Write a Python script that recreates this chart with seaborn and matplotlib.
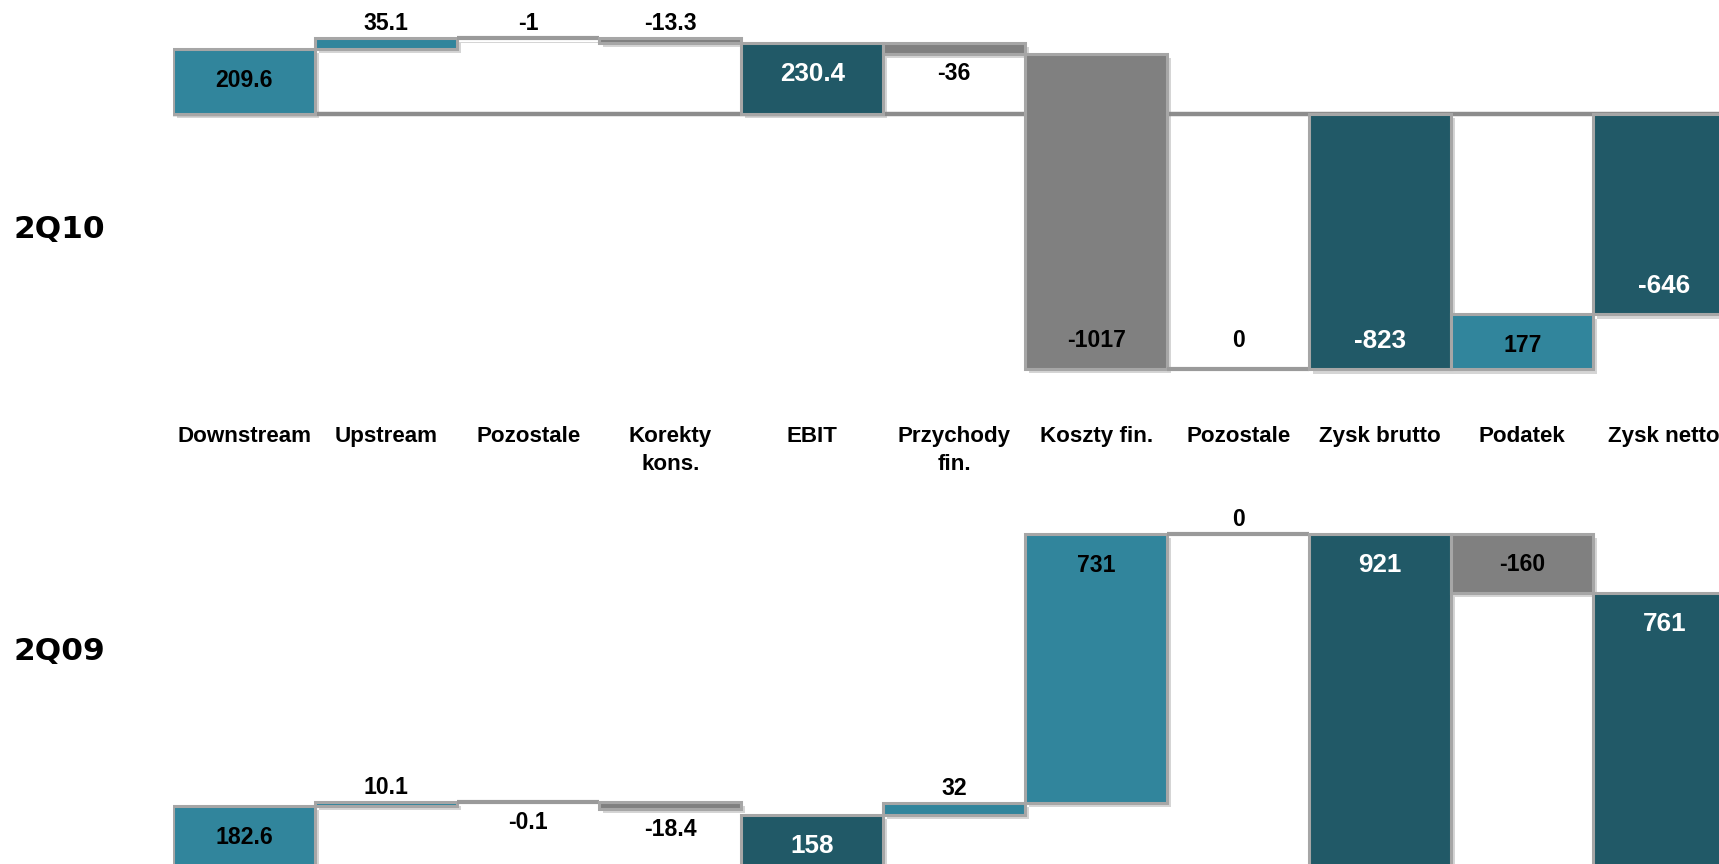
import numpy as np
import pandas as pd
import seaborn as sns
import matplotlib
matplotlib.use("Agg")
import matplotlib.pyplot as plt
import matplotlib.patheffects as pe
from matplotlib import font_manager
from matplotlib.transforms import blended_transform_factory

# ---------------- data ----------------
categories = ["Downstream", "Upstream", "Pozostale", "Korekty\nkons.", "EBIT",
              "Przychody\nfin.", "Koszty fin.", "Pozostale", "Zysk brutto",
              "Podatek", "Zysk netto"]
step_kind = ["start", "delta", "delta", "delta", "total", "delta",
             "delta", "delta", "total", "delta", "total"]
values_2q10 = [209.6, 35.1, -1, -13.3, 230.4, -36, -1017, 0, -823, 177, -646]
values_2q09 = [182.6, 10.1, -0.1, -18.4, 158, 32, 731, 0, 921, -160, 761]
label_2q10 = ["209.6", "35.1", "-1", "-13.3", "230.4", "-36", "-1017", "0", "-823", "177", "-646"]
label_2q09 = ["182.6", "10.1", "-0.1", "-18.4", "158", "32", "731", "0", "921", "-160", "761"]
period_names = ["2Q10", "2Q09"]

# label placement style per bar
place_2q10 = ["in", "above", "above", "above", "in", "below", "in", "in", "in", "in", "in"]
place_2q09 = ["in", "above", "below", "below", "in", "above", "in", "above", "in", "in", "in"]

# ---------------- style ----------------
LIGHT = "#31859C"
DARK = "#215967"
GREY = "#808080"
EDGE = "#A6A6A6"

sns.set_theme(style="white")
names = {f.name for f in font_manager.fontManager.ttflist}
if "Liberation Sans Narrow" in names:
    NARROW = ["Liberation Sans Narrow", "DejaVu Sans"]
    nscale = 1.0
else:
    NARROW = ["Liberation Sans", "DejaVu Sans"]
    nscale = 0.85
plt.rcParams["font.family"] = NARROW

W, H = 1719, 864
fig = plt.figure(figsize=(W / 100, H / 100), dpi=100)
fig.patch.set_facecolor("white")

left_px = 173.2
barw_px = 142.0
x_right = -0.5 + (W - left_px) / barw_px


def waterfall(values, kinds):
    bottoms, heights = [], []
    run = 0.0
    for v, k in zip(values, kinds):
        if k in ("start", "total"):
            bottoms.append(0.0)
            heights.append(v)
            run = v
        else:
            bottoms.append(run)
            heights.append(v)
            run += v
    return np.array(bottoms), np.array(heights)


def colors_for(values, kinds):
    out = []
    for v, k in zip(values, kinds):
        if k == "total":
            out.append(DARK)
        elif k == "start":
            out.append(LIGHT)
        elif v > 0:
            out.append(LIGHT)
        else:
            out.append(GREY)
    return out


def draw_panel(ax, values, kinds, labels, places, ylim, zero_line):
    bottoms, heights = waterfall(values, kinds)
    df = pd.DataFrame({"pos": list(range(len(values))), "h": heights})
    sns.barplot(data=df, x="pos", y="h", bottom=bottoms, width=1.0,
                errorbar=None, ax=ax, edgecolor=EDGE, linewidth=2.2,
                color=LIGHT, zorder=3)
    cols = colors_for(values, kinds)
    for p, c, v in zip(ax.patches, cols, values):
        p.set_facecolor(c)
        if abs(v) < 2:
            p.set_edgecolor("#9A9A9A")
            p.set_linewidth(3)
        p.set_path_effects([pe.SimplePatchShadow(offset=(3, -3), shadow_rgbFace="#888888", alpha=0.35),
                            pe.Normal()])
    if zero_line:
        ax.plot([-0.5, x_right], [0, 0], color="#8C8C8C", lw=3.2, zorder=2,
                solid_capstyle="butt")
    for i, (b, h, v, k, lab, pl) in enumerate(zip(bottoms, heights, values, kinds, labels, places)):
        top = max(b, b + h)
        bot = min(b, b + h)
        white = (k == "total")
        fs = (22 if white else 19.5) * nscale
        col = "white" if white else "black"
        if pl == "in":
            if v > 0:
                xy, off = (i, top), -22.5
            else:
                xy, off = (i, bot), 20.5
        elif pl == "above":
            xy, off = (i, top), 10.5
        else:
            xy, off = (i, bot), -14.5
        ax.annotate(lab, xy=xy, xytext=(0, off), textcoords="offset points",
                    ha="center", va="center", fontsize=fs, fontweight="bold",
                    color=col, zorder=5, family=NARROW)
    ax.set_xlim(-0.5, x_right)
    ax.set_ylim(*ylim)
    ax.axis("off")


# top panel (2Q10): pixel rows 0..380
ax_top = fig.add_axes([left_px / W, 1 - 380 / H, 1 - left_px / W, 380 / H])
draw_panel(ax_top, values_2q10, step_kind, label_2q10, place_2q10, (-857.2, 367.4), True)

# bottom panel (2Q09): pixel rows 470..864
ax_bot = fig.add_axes([left_px / W, 0, 1 - left_px / W, 394 / H])
draw_panel(ax_bot, values_2q09, step_kind, label_2q09, place_2q09, (25.0, 1094.5), False)

# category labels between panels
tr = blended_transform_factory(ax_top.transData, fig.transFigure)
for i, c in enumerate(categories):
    ax_top.text(i, 1 - 426 / H, c, transform=tr, ha="center", va="top",
                multialignment="center", fontsize=19 * nscale, fontweight="bold",
                color="black", family=NARROW, linespacing=1.42, clip_on=False)

# period labels
fig.text(13 / W, 1 - 229 / H, period_names[0], ha="left", va="center",
         fontsize=22.5, fontweight="bold", family=["DejaVu Sans"], color="black")
fig.text(13 / W, 1 - 651 / H, period_names[1], ha="left", va="center",
         fontsize=22.5, fontweight="bold", family=["DejaVu Sans"], color="black")

fig.savefig("out.png", dpi=100, facecolor="white")
